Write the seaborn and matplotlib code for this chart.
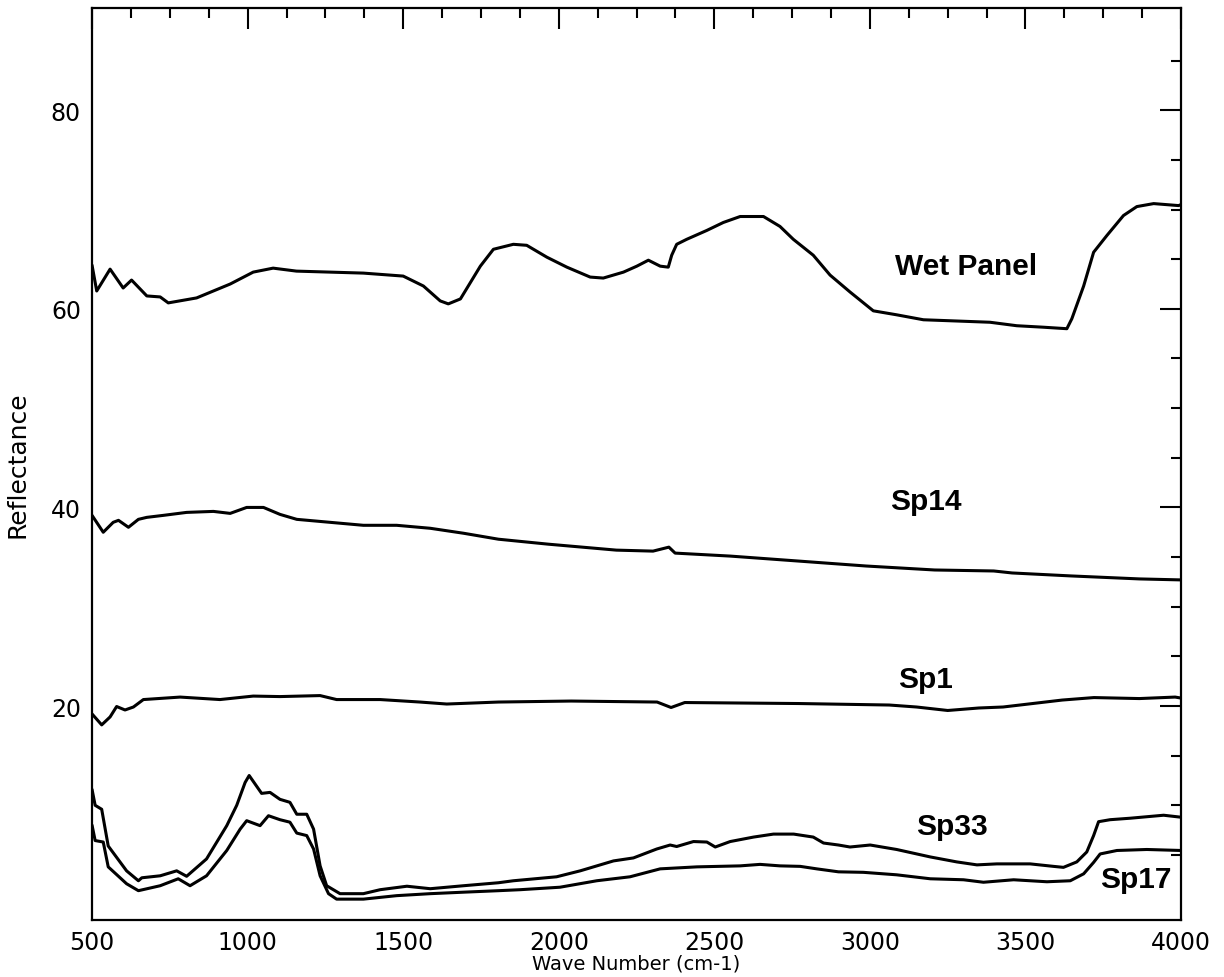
import matplotlib
matplotlib.use("Agg")
import matplotlib.pyplot as plt
from matplotlib.ticker import FixedLocator, MultipleLocator
import pandas as pd
import seaborn as sns

# ---- spectra: wave number (cm-1) and reflectance (%) ----
wet_wn = [500, 515, 558, 600, 627, 676, 719, 745, 836, 944, 1018, 1082, 1157, 1372,
          1500, 1565, 1619, 1645, 1684, 1748, 1790, 1854, 1897, 1962, 2026, 2101,
          2143, 2208, 2251, 2288, 2326, 2352, 2363, 2379, 2411, 2476, 2529, 2583,
          2658, 2711, 2754, 2818, 2872, 2936, 3011, 3086, 3172, 3301, 3386, 3472,
          3558, 3633, 3649, 3687, 3719, 3762, 3815, 3858, 3912, 3992, 4000]
wet_val = [64.4, 61.8, 64.0, 62.1, 62.9, 61.3, 61.2, 60.6, 61.1, 62.5, 63.7, 64.1, 63.8, 63.6,
           63.3, 62.3, 60.8, 60.5, 61.0, 64.3, 66.0, 66.5, 66.4, 65.2, 64.2, 63.2,
           63.1, 63.7, 64.3, 64.9, 64.3, 64.2, 65.4, 66.5, 67.0, 67.9, 68.7, 69.3,
           69.3, 68.3, 67.0, 65.4, 63.4, 61.7, 59.8, 59.4, 58.9, 58.75, 58.65, 58.3,
           58.15, 58.0, 59.0, 62.3, 65.7, 67.4, 69.4, 70.3, 70.6, 70.4, 70.5]

sp14_wn = [500, 536, 568, 585, 617, 649, 676, 729, 804, 890, 944, 997, 1051, 1104,
           1158, 1265, 1372, 1479, 1587, 1694, 1806, 1966, 2185, 2303, 2354, 2374,
           2551, 2770, 2988, 3208, 3398, 3457, 3647, 3866, 4000]
sp14_val = [39.2, 37.5, 38.5, 38.7, 38.0, 38.8, 39.0, 39.2, 39.5, 39.6, 39.4, 40.0, 40.0, 39.3,
            38.8, 38.5, 38.2, 38.2, 37.9, 37.4, 36.8, 36.3, 35.7, 35.6, 36.0, 35.4,
            35.1, 34.6, 34.1, 33.7, 33.6, 33.4, 33.1, 32.8, 32.7]

sp1_wn = [500, 531, 558, 579, 606, 633, 665, 783, 911, 1018, 1104, 1233, 1286, 1426,
          1554, 1640, 1806, 2040, 2316, 2361, 2405, 2770, 3062, 3150, 3250, 3350,
          3428, 3618, 3720, 3866, 3981, 4000]
sp1_val = [19.2, 18.1, 18.9, 19.95, 19.6, 19.9, 20.65, 20.9, 20.65, 21.0, 20.95, 21.05, 20.65, 20.65,
           20.4, 20.2, 20.4, 20.5, 20.4, 19.85, 20.35, 20.25, 20.1, 19.9, 19.55, 19.8,
           19.9, 20.6, 20.85, 20.75, 20.9, 20.8]

sp33_wn = [500, 510, 531, 552, 611, 649, 660, 719, 772, 804, 868, 933, 965, 992, 1005,
           1045, 1072, 1104, 1136, 1158, 1190, 1212, 1233, 1254, 1297, 1372, 1426,
           1512, 1587, 1694, 1806, 1854, 1993, 2069, 2176, 2240, 2315, 2358, 2379,
           2433, 2476, 2503, 2551, 2626, 2690, 2755, 2818, 2851, 2899, 2936, 3001,
           3086, 3194, 3279, 3344, 3408, 3515, 3590, 3622, 3665, 3697, 3719, 3735,
           3772, 3837, 3944, 4000]
sp33_val = [11.6, 10.0, 9.6, 5.9, 3.4, 2.4, 2.7, 2.9, 3.4, 2.85, 4.6, 7.95, 10.0, 12.3, 13.0,
            11.2, 11.3, 10.6, 10.3, 9.1, 9.1, 7.6, 3.9, 1.9, 1.1, 1.1, 1.5,
            1.85, 1.6, 1.9, 2.2, 2.4, 2.8, 3.4, 4.4, 4.7, 5.6, 6.0, 5.85,
            6.35, 6.3, 5.8, 6.35, 6.8, 7.1, 7.1, 6.8, 6.2, 6.0, 5.8, 6.0,
            5.55, 4.8, 4.3, 4.0, 4.1, 4.1, 3.85, 3.75, 4.3, 5.3, 6.95, 8.35,
            8.55, 8.7, 9.0, 8.8]

sp17_wn = [500, 510, 536, 552, 611, 649, 719, 777, 815, 868, 933, 976, 997, 1040, 1067,
           1104, 1136, 1158, 1190, 1212, 1233, 1260, 1286, 1372, 1479, 1587, 1694,
           1806, 1876, 2004, 2122, 2229, 2326, 2444, 2583, 2647, 2711, 2776, 2829,
           2899, 2979, 3086, 3194, 3301, 3365, 3462, 3569, 3644, 3687, 3719, 3740,
           3794, 3890, 4000]
sp17_val = [8.0, 6.45, 6.3, 3.8, 2.1, 1.4, 1.9, 2.6, 1.9, 2.9, 5.45, 7.6, 8.45, 7.95, 8.95,
            8.55, 8.3, 7.2, 6.95, 5.6, 2.9, 1.1, 0.55, 0.55, 0.9, 1.1, 1.25,
            1.4, 1.5, 1.75, 2.4, 2.8, 3.6, 3.8, 3.9, 4.05, 3.9, 3.85, 3.6,
            3.3, 3.25, 3.0, 2.6, 2.5, 2.25, 2.5, 2.3, 2.4, 3.1, 4.25, 5.1,
            5.45, 5.55, 5.45]

# curve labels and where they sit (wave number, reflectance baseline)
label_names = ["Wet Panel", "Sp14", "Sp1", "Sp33", "Sp17"]
label_wn = [3308, 3181, 3180, 3263, 3854]
label_val = [63.5, 39.8, 21.9, 7.1, 1.8]

x_major = [500, 1000, 1500, 2000, 2500, 3000, 3500, 4000]
y_major = [20, 40, 60, 80]
y_minor = [5, 10, 15, 25, 30, 35, 45, 50, 55, 65, 70, 75, 85]

spectra = pd.concat([
    pd.DataFrame({"wn": wet_wn, "refl": wet_val, "sample": "Wet Panel"}),
    pd.DataFrame({"wn": sp14_wn, "refl": sp14_val, "sample": "Sp14"}),
    pd.DataFrame({"wn": sp1_wn, "refl": sp1_val, "sample": "Sp1"}),
    pd.DataFrame({"wn": sp33_wn, "refl": sp33_val, "sample": "Sp33"}),
    pd.DataFrame({"wn": sp17_wn, "refl": sp17_val, "sample": "Sp17"}),
], ignore_index=True)

sns.set_style("white")
plt.rcParams["font.family"] = ["DejaVu Sans"]

fig = plt.figure(figsize=(12.24, 9.78), dpi=100)
ax = fig.add_axes([0.0752, 0.0583, 0.8897, 0.9325])

sns.lineplot(data=spectra, x="wn", y="refl", units="sample", estimator=None,
             sort=False, color="black", linewidth=2.2, ax=ax, legend=False)

ax.set_xlim(500, 4000)
ax.set_ylim(-1.55, 90.3)

ax.xaxis.set_major_locator(FixedLocator(x_major))
ax.xaxis.set_minor_locator(MultipleLocator(125))
ax.yaxis.set_major_locator(FixedLocator(y_major))
ax.yaxis.set_minor_locator(FixedLocator(y_minor))
ax.set_xticklabels([str(v) for v in x_major])
ax.set_yticklabels([str(v) for v in y_major])

ax.tick_params(which="both", direction="in", top=True, right=True,
               color="black", width=1.5, labelsize=17, labelcolor="black")
ax.tick_params(which="major", length=15)
ax.tick_params(which="minor", length=7.5)
ax.tick_params(axis="y", which="major", pad=8)
ax.tick_params(axis="x", which="major", pad=7)

for side in ax.spines.values():
    side.set_visible(True)
    side.set_color("black")
    side.set_linewidth(1.6)

ax.set_xlabel("Wave Number (cm-1)", fontsize=14, color="black")
ax.set_ylabel("Reflectance", fontsize=18, color="black")
ax.xaxis.set_label_coords(0.5, -0.037)
ax.yaxis.set_label_coords(-0.057, 0.5)

for name, wx, wy in zip(label_names, label_wn, label_val):
    ax.text(wx, wy, name, ha="center", va="baseline", fontsize=21.5,
            fontweight="bold", family=["Liberation Sans Narrow", "Liberation Sans"],
            color="black")

fig.savefig("out.png", dpi=100, facecolor="white")
